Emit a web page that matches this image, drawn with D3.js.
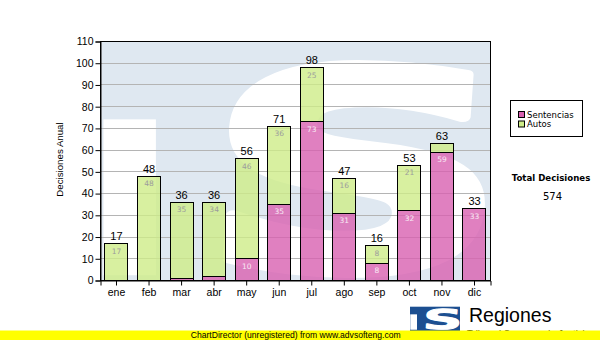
<!DOCTYPE html>
<html>
<head>
<meta charset="utf-8">
<script src="https://cdn.jsdelivr.net/npm/d3@7"></script>
<style>
  body { margin: 0; background: #fff; }
  svg { display: block; }
</style>
</head>
<body>
<svg id="chart" width="600" height="340"></svg>
<script>
// Monthly decisions, stacked by type
const months = ["ene", "feb", "mar", "abr", "may", "jun", "jul", "ago", "sep", "oct", "nov", "dic"];
const sentencias = [0, 0, 1, 2, 10, 35, 73, 31, 8, 32, 59, 33];
const autos = [17, 48, 35, 34, 46, 36, 25, 16, 8, 21, 4, 0];
const yTicks = [0, 10, 20, 30, 40, 50, 60, 70, 80, 90, 100, 110];
const seriesNames = ["Sentencias", "Autos"];
const seriesColors = ["#d860b0", "#ceec88"];
const labelColors = ["#f8eaf4", "#9c9c9c"];

const svg = d3.select("#chart");
const plot = { left: 100, right: 490, top: 41, bottom: 280 };

const rows = months.map((m, i) => ({ month: m, Sentencias: sentencias[i], Autos: autos[i] }));
const stack = d3.stack().keys(seriesNames)(rows);
const totals = rows.map(r => r.Sentencias + r.Autos);
const grandTotal = d3.sum(totals);

const x = d3.scaleBand().domain(months)
  .range([plot.left, plot.right])
  .paddingInner(0.293).paddingOuter(0.138);
const y = d3.scaleLinear().domain([0, 110]).range([plot.bottom, plot.top]);

// Emblem: tinted block with a white notch and a wide, heavy white "S"
function drawEmblem(g, x0, y0, w, h, tone) {
  g.append("rect").attr("x", x0).attr("y", y0).attr("width", w).attr("height", h).attr("fill", tone);
  g.append("rect")
    .attr("x", x0 + 0.005 * w).attr("y", y0 + 0.325 * h)
    .attr("width", 0.135 * w).attr("height", 0.655 * h)
    .attr("fill", "#fff");
  const fs = h * 0.88 / 0.76;
  const sw = fs * 0.035;
  const sx = (0.7 * w) / (0.6 * fs + sw);
  g.append("g")
    .attr("transform", `translate(${x0 + 0.64 * w},${y0 + 0.955 * h}) skewX(-4) scale(${sx},1)`)
    .append("text")
    .attr("text-anchor", "middle")
    .attr("font-family", "DejaVu Sans")
    .attr("font-weight", "bold")
    .attr("font-size", fs)
    .attr("fill", "#fff")
    .attr("stroke", "#fff")
    .attr("stroke-width", sw)
    .attr("stroke-linejoin", "round")
    .text("S");
}

// Plot background with watermark
svg.append("rect").attr("x", plot.left).attr("y", plot.top)
  .attr("width", plot.right - plot.left).attr("height", plot.bottom - plot.top).attr("fill", "#fff");
drawEmblem(svg.append("g"), plot.left + 1.5, plot.top + 1, plot.right - plot.left - 1.5, plot.bottom - plot.top - 1, "#dfe8f1");

// Horizontal grid
svg.append("g").selectAll("line")
  .data(yTicks.filter(t => t > 0 && t < 110))
  .join("line")
  .attr("x1", plot.left).attr("x2", plot.right)
  .attr("y1", d => Math.round(y(d)) + 0.5).attr("y2", d => Math.round(y(d)) + 0.5)
  .attr("stroke", "#b4b4b4").attr("stroke-width", 1);

// Stacked bars
const bw = Math.round(x.bandwidth());
const layers = svg.append("g").selectAll("g")
  .data(stack)
  .join("g")
  .attr("fill", (d, i) => seriesColors[i]);

layers.selectAll("rect")
  .data(d => d.filter(s => s[1] - s[0] > 0))
  .join("rect")
  .attr("x", d => Math.round(x(d.data.month)) + 0.5)
  .attr("y", d => Math.round(y(d[1])) + 0.5)
  .attr("width", bw)
  .attr("height", d => Math.round(y(d[0])) - Math.round(y(d[1])))
  .attr("fill-opacity", 0.8)
  .attr("stroke", "#000").attr("stroke-width", 1);

// Segment value labels
stack.forEach((layer, i) => {
  svg.append("g").selectAll("text")
    .data(layer.filter(s => s[1] - s[0] >= 5))
    .join("text")
    .attr("x", d => x(d.data.month) + x.bandwidth() / 2 + 0.5)
    .attr("y", d => y(d[1]) + 10.5)
    .attr("text-anchor", "middle")
    .attr("font-family", "DejaVu Sans")
    .attr("font-size", 7.5)
    .attr("fill", labelColors[i])
    .text(d => d[1] - d[0]);
});

// Totals above bars
svg.append("g").selectAll("text")
  .data(rows)
  .join("text")
  .attr("x", d => x(d.month) + x.bandwidth() / 2 + 0.5)
  .attr("y", (d, i) => y(totals[i]) - 3)
  .attr("text-anchor", "middle")
  .attr("font-family", "Liberation Sans")
  .attr("font-size", 11)
  .attr("fill", "#000")
  .text((d, i) => totals[i]);

// Plot frame
svg.append("rect")
  .attr("x", plot.left + 0.5).attr("y", plot.top + 0.5)
  .attr("width", plot.right - plot.left).attr("height", plot.bottom - plot.top)
  .attr("fill", "none").attr("stroke", "#000");

// Axes
const yAxis = svg.append("g")
  .attr("transform", `translate(${plot.left + 0.5},0.5)`)
  .call(d3.axisLeft(y).tickValues(yTicks).tickSize(5).tickPadding(2));
const xAxis = svg.append("g")
  .attr("transform", `translate(0.5,${plot.bottom + 0.5})`)
  .call(d3.axisBottom(x).tickSize(5).tickPadding(3));
[yAxis, xAxis].forEach(a => {
  a.selectAll("path, line").attr("stroke", "#000");
  a.selectAll("text").attr("font-family", "Liberation Sans").attr("font-size", 10.5).attr("fill", "#000");
});

// Y axis title
svg.append("text")
  .attr("transform", `translate(63,${(122 + 197) / 2}) rotate(-90)`)
  .attr("text-anchor", "middle")
  .attr("font-family", "Liberation Sans")
  .attr("font-size", 9.7)
  .attr("fill", "#000")
  .text("Decisiones Anual");

// Legend
const legend = svg.append("g");
legend.append("rect")
  .attr("x", 510.5).attr("y", 100.5).attr("width", 72).attr("height", 36)
  .attr("fill", "#fff").attr("stroke", "#000");
seriesNames.forEach((name, i) => {
  legend.append("rect")
    .attr("x", 518.5).attr("y", 111.5 + i * 9.5).attr("width", 6).attr("height", 6)
    .attr("fill", seriesColors[i]).attr("stroke", "#000");
  legend.append("text")
    .attr("x", 527).attr("y", 117.5 + i * 9.5)
    .attr("font-family", "DejaVu Sans").attr("font-size", 8.5).attr("fill", "#000")
    .text(name);
});

// Grand total
svg.append("text")
  .attr("x", 551).attr("y", 181)
  .attr("text-anchor", "middle")
  .attr("font-family", "DejaVu Sans").attr("font-weight", "bold").attr("font-size", 8.6)
  .attr("fill", "#000")
  .text("Total Decisiones");
svg.append("text")
  .attr("x", 552.5).attr("y", 200)
  .attr("text-anchor", "middle")
  .attr("font-family", "DejaVu Sans").attr("font-size", 10)
  .attr("fill", "#000")
  .text(grandTotal);

// Footer emblem and name
const foot = svg.append("g");
foot.append("rect").attr("x", 410).attr("y", 320).attr("width", 50).attr("height", 20).attr("fill", "#1c4f91");
drawEmblem(foot, 410, 306.7, 50, 23.5, "#1c4f91");
foot.append("text")
  .attr("x", 469).attr("y", 321.7)
  .attr("font-family", "Liberation Sans").attr("font-size", 19.5).attr("fill", "#000")
  .text("Regiones");
foot.append("text")
  .attr("x", 467).attr("y", 338)
  .attr("textLength", 123).attr("lengthAdjust", "spacingAndGlyphs")
  .attr("font-family", "Liberation Sans").attr("font-size", 11).attr("fill", "#000")
  .text("Tribunal Supremo de Justicia");

// Credit strip
svg.append("rect").attr("x", 0).attr("y", 330.5).attr("width", 600).attr("height", 10).attr("fill", "#ffff00");
svg.append("text")
  .attr("x", 190.7).attr("y", 337.8)
  .attr("textLength", 210).attr("lengthAdjust", "spacingAndGlyphs")
  .attr("font-family", "Liberation Sans").attr("font-size", 9.5).attr("fill", "#000")
  .text("ChartDirector (unregistered) from www.advsofteng.com");
</script>
</body>
</html>
